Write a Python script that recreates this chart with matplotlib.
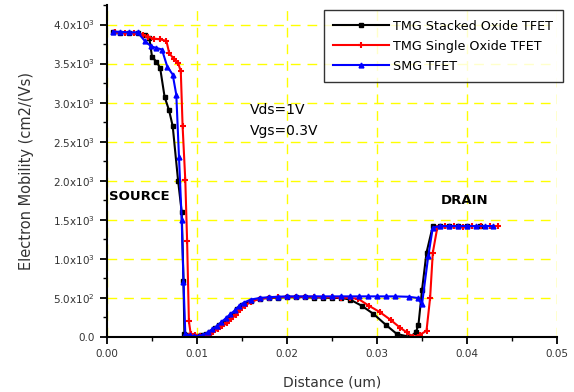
import matplotlib
matplotlib.use("Agg")
import matplotlib.pyplot as plt
from matplotlib.ticker import MultipleLocator, FuncFormatter

# TMG Stacked Oxide TFET
x_stacked = [0.0007, 0.0015, 0.0025, 0.0034, 0.0042, 0.0047, 0.0050, 0.0055, 0.0059, 0.0064,
             0.0069, 0.0073, 0.0079, 0.0083, 0.0085, 0.0086, 0.0090, 0.0095, 0.0100, 0.0105,
             0.0110, 0.0115, 0.0120, 0.0125, 0.0130, 0.0135, 0.0140, 0.0145, 0.0150, 0.0160,
             0.0170, 0.0180, 0.0190, 0.0200, 0.0210, 0.0220, 0.0230, 0.0240, 0.0250, 0.0260,
             0.0270, 0.0283, 0.0296, 0.0310, 0.0322, 0.0337, 0.0343, 0.0346, 0.0350, 0.0355,
             0.0362, 0.0370, 0.0380, 0.0390, 0.0400, 0.0414]
y_stacked = [3900, 3895, 3890, 3885, 3860, 3830, 3590, 3520, 3447, 3074,
             2900, 2700, 2000, 1600, 720, 40, 30, 15, 10, 20,
             40, 70, 110, 150, 190, 240, 300, 360, 410, 460,
             490, 500, 505, 510, 510, 510, 505, 505, 500, 500,
             480, 400, 296, 154, 39, 0, 60, 150, 600, 1080,
             1420, 1420, 1415, 1420, 1420, 1420]

# TMG Single Oxide TFET
x_single = [0.0009, 0.0020, 0.0030, 0.0040, 0.0046, 0.0052, 0.0059, 0.0066, 0.0069, 0.0074,
            0.0079, 0.0082, 0.0084, 0.0087, 0.0089, 0.0091, 0.0093, 0.0098, 0.0103, 0.0108,
            0.0113, 0.0118, 0.0123, 0.0128, 0.0133, 0.0138, 0.0143, 0.0148, 0.0153, 0.0160,
            0.0170, 0.0180, 0.0190, 0.0200, 0.0210, 0.0220, 0.0230, 0.0240, 0.0250, 0.0260,
            0.0270, 0.0279, 0.0291, 0.0303, 0.0315, 0.0326, 0.0333, 0.0340, 0.0348, 0.0355,
            0.0359, 0.0362, 0.0367, 0.0375, 0.0385, 0.0395, 0.0405, 0.0415, 0.0425, 0.0434]
y_single = [3900, 3895, 3890, 3870, 3840, 3820, 3810, 3790, 3640, 3560,
            3510, 3400, 2700, 2006, 1235, 200, 40, 20, 10, 15,
            30, 60, 100, 140, 180, 230, 280, 340, 400, 450,
            490, 505, 510, 515, 515, 515, 515, 510, 510, 505,
            500, 490, 400, 320, 220, 116, 60, 0, 30, 80,
            500, 1080, 1400, 1420, 1420, 1410, 1420, 1420, 1420, 1420]

# SMG TFET
x_smg = [0.0007, 0.0015, 0.0025, 0.0034, 0.0042, 0.0049, 0.0055, 0.0061, 0.0067, 0.0073,
         0.0077, 0.0080, 0.0083, 0.0085, 0.0087, 0.0092, 0.0097, 0.0102, 0.0107, 0.0112,
         0.0117, 0.0122, 0.0127, 0.0132, 0.0137, 0.0142, 0.0147, 0.0152, 0.0160, 0.0170,
         0.0180, 0.0190, 0.0200, 0.0210, 0.0220, 0.0230, 0.0240, 0.0250, 0.0260, 0.0270,
         0.0280, 0.0290, 0.0300, 0.0310, 0.0320, 0.0335, 0.0345, 0.0350, 0.0357, 0.0362,
         0.0370, 0.0380, 0.0390, 0.0400, 0.0410, 0.0420, 0.0429]
y_smg = [3910, 3905, 3900, 3900, 3790, 3720, 3700, 3680, 3460, 3360,
         3100, 2300, 1500, 700, 40, 20, 10, 15, 30, 60,
         100, 140, 190, 240, 290, 340, 400, 440, 480, 500,
         510, 515, 520, 520, 520, 520, 520, 520, 520, 520,
         520, 520, 520, 520, 520, 515, 500, 420, 1040, 1400,
         1420, 1420, 1420, 1420, 1420, 1420, 1420]

labels = ["TMG Stacked Oxide TFET", "TMG Single Oxide TFET", "SMG TFET"]

plt.rcParams['font.family'] = ['DejaVu Sans']

fig = plt.figure(figsize=(5.74, 3.92), dpi=100)
ax = fig.add_axes([0.1864, 0.1403, 0.784, 0.847])

ax.plot(x_stacked, y_stacked, color='black', marker='s', ms=3, lw=1.5, label=labels[0])
ax.plot(x_single, y_single, color='red', marker='+', ms=4, mew=1.5, lw=1.5, label=labels[1])
ax.plot(x_smg, y_smg, color='blue', marker='^', ms=3.5, lw=1.5, label=labels[2])

ax.set_xlim(0, 0.05)
ax.set_ylim(0, 4250)
ax.xaxis.set_major_locator(MultipleLocator(0.01))
ax.xaxis.set_minor_locator(MultipleLocator(0.005))
ax.yaxis.set_major_locator(MultipleLocator(500))
ax.yaxis.set_minor_locator(MultipleLocator(250))


def ylab(v, pos):
    if v == 0:
        return "0.0"
    exp = 3 if v >= 1000 else 2
    return "%.1fx10$^{%d}$" % (v / 10 ** exp, exp)


ax.yaxis.set_major_formatter(FuncFormatter(ylab))
ax.xaxis.set_major_formatter(FuncFormatter(lambda v, p: "%.2f" % v))

ax.grid(True, which='major', color='#ffff00', linestyle=(0, (7, 5)), lw=1)
ax.set_axisbelow(True)
for s in ['top', 'right']:
    ax.spines[s].set_visible(False)
ax.spines['left'].set_linewidth(1.5)
ax.spines['bottom'].set_linewidth(1.5)
ax.tick_params(which='major', length=5, width=1.3, labelsize=7.5, colors='black', labelcolor='#333333')
ax.tick_params(which='minor', length=3, width=1.0)

ax.set_xlabel("Distance (um)", fontsize=10, color='#333333', labelpad=12)
ax.set_ylabel("Electron Mobility (cm2/(Vs)", fontsize=10.5, color='#333333', labelpad=14)

ax.text(0.0002, 1750, "SOURCE", fontsize=9.5, fontweight='bold')
ax.text(0.0371, 1700, "DRAIN", fontsize=9.5, fontweight='bold')
ax.text(0.0159, 2850, "Vds=1V", fontsize=10)
ax.text(0.0159, 2590, "Vgs=0.3V", fontsize=10)

leg = ax.legend(loc='upper right', bbox_to_anchor=(1.013, 0.985), fontsize=9.2, frameon=True,
                fancybox=False, edgecolor='black', handlelength=4.4, handletextpad=0.3,
                borderpad=0.75, labelspacing=0.55, borderaxespad=0)
leg.get_frame().set_linewidth(1)

fig.savefig("out.png", dpi=100)
